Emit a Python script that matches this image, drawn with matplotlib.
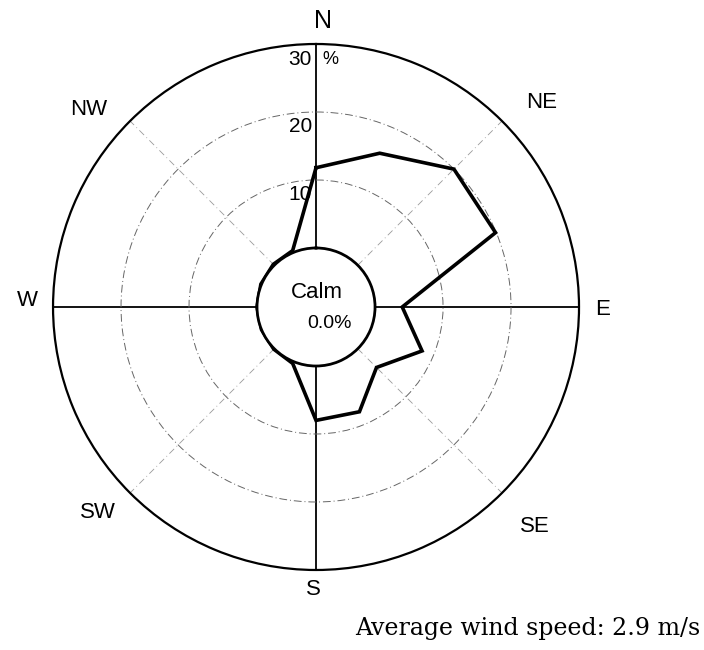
import numpy as np
import matplotlib
matplotlib.use("Agg")
import matplotlib.pyplot as plt
from matplotlib.transforms import offset_copy

# ---- data ----
directions = ["N", "NNE", "NE", "ENE", "E", "ESE", "SE", "SSE",
              "S", "SSW", "SW", "WSW", "W", "WNW", "NW", "NNW"]
frequency = [11.8, 15.8, 20.0, 19.9, 4.0, 8.2, 3.9, 8.0,
             8.0, 0.3, 0.1, 0.0, 0.0, 0.1, 0.2, 0.3]
ring_values = [10, 20, 30]
ring_labels = ["10", "20", "30"]
compass_labels = ["N", "NE", "E", "SE", "S", "SW", "W", "NW"]
compass_angles = [0, 45, 90, 135, 180, 225, 270, 315]
calm_text = "Calm"
calm_value = "0.0%"
footer = "Average wind speed: 2.9 m/s"

plt.rcParams['font.family'] = ['Liberation Sans', 'DejaVu Sans']

fig = plt.figure(figsize=(7.04, 6.5), dpi=100)
ax = fig.add_axes([0.0753, 0.1231, 0.7472, 0.8092], projection='polar')
ax.set_theta_zero_location('N')
ax.set_theta_direction(-1)
ax.set_ylim(0, 30)
ax.set_rorigin(-8.68)

# rings
ax.set_yticks(ring_values[:-1])
ax.set_yticklabels([])
ax.yaxis.grid(True, linestyle=(0, (8, 3, 1, 3)), linewidth=0.7, color='#666666')

# spokes
ax.set_xticks(np.deg2rad(compass_angles))
ax.set_xticklabels([])
ax.xaxis.grid(True)
for ang, tick in zip(compass_angles, ax.xaxis.get_major_ticks()):
    gl = tick.gridline
    if ang % 90 == 0:
        gl.set_linestyle('-')
        gl.set_linewidth(1.3)
        gl.set_color('black')
    else:
        gl.set_linestyle((0, (8, 4, 1, 4)))
        gl.set_linewidth(0.6)
        gl.set_color('#999999')
ax.tick_params(axis='both', length=0)

ax.spines['polar'].set_linewidth(1.6)
ax.spines['polar'].set_color('black')
ax.spines['inner'].set_linewidth(2.0)
ax.spines['inner'].set_color('black')

# wind-rose line
theta = np.deg2rad(np.arange(len(directions)) * 22.5)
vals = np.array(frequency)
ax.plot(np.append(theta, theta[0]), np.append(vals, vals[0]),
        color='black', linewidth=2.6, solid_joinstyle='miter', zorder=5)

# compass labels: (angle, radius, fontsize) placement
label_place = {
    "N": (1.4, 33.4, 18),
    "NE": (47.8, 36.2, 16),
    "E": (90.6, 33.4, 16),
    "SE": (135.0, 36.9, 16),
    "S": (180.6, 32.8, 16),
    "SW": (226.7, 35.4, 16),
    "W": (271.2, 33.8, 16),
    "NW": (311.0, 35.7, 16),
}
for lab in compass_labels:
    ang, r, fs = label_place[lab]
    ax.text(np.deg2rad(ang), r, lab, ha='center', va='center', fontsize=fs,
            clip_on=False)

# ring labels
lab_tr = offset_copy(ax.transData, fig=fig, x=-4, y=-15, units='dots')
for v, s in zip(ring_values, ring_labels):
    ax.text(0, v, s, transform=lab_tr, ha='right', va='center', fontsize=15,
            clip_on=False)
pct_tr = offset_copy(ax.transData, fig=fig, x=6, y=-15, units='dots')
ax.text(0, ring_values[-1], "%", transform=pct_tr, ha='left', va='center',
        fontsize=13, clip_on=False)

# calm text
ax.text(0.5, 0.5, calm_text, transform=offset_copy(ax.transAxes, fig=fig, x=1, y=14, units='dots'),
        ha='center', va='center', fontsize=16)
ax.text(0.5, 0.5, calm_value, transform=offset_copy(ax.transAxes, fig=fig, x=13, y=-17, units='dots'),
        ha='center', va='center', fontsize=14)

fig.text(0.995, 1 - 628 / 650, footer, ha='right', va='center', fontsize=17,
         family='DejaVu Serif')

fig.savefig("out.png", dpi=100)
